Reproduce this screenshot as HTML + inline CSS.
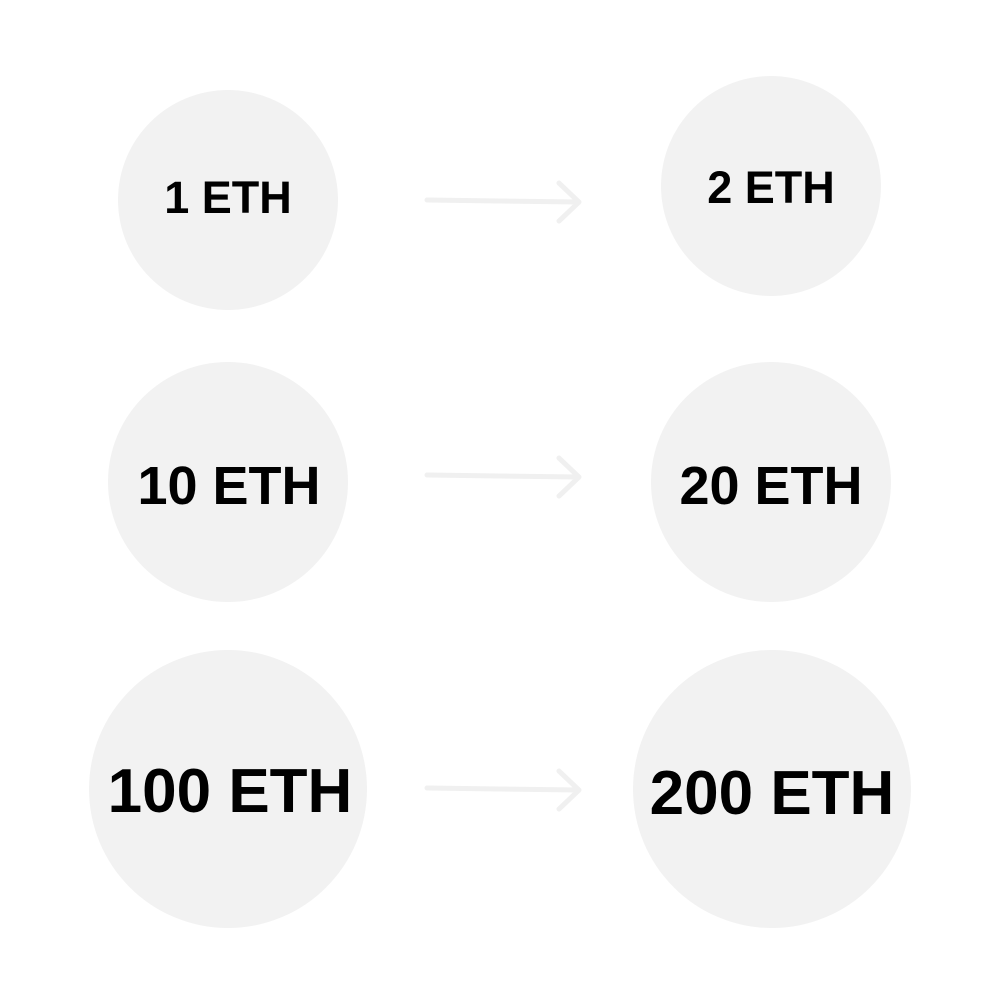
<!DOCTYPE html>
<html><head><style>
html,body{margin:0;padding:0;background:#fff;width:1000px;height:1000px;overflow:hidden}
svg text{font-family:"Liberation Sans",sans-serif;font-weight:bold;fill:#000;text-anchor:middle}
</style></head><body>
<svg width="1000" height="1000" viewBox="0 0 1000 1000">
<g fill="#f2f2f2">
<circle cx="228" cy="200" r="110"/>
<circle cx="771" cy="186" r="110"/>
<circle cx="228" cy="482" r="120"/>
<circle cx="771" cy="482" r="120"/>
<circle cx="228" cy="789" r="139"/>
<circle cx="772" cy="789" r="139"/>
</g>
<g stroke="#f0f0f0" stroke-width="5" fill="none" stroke-linecap="round" stroke-linejoin="round">
<path d="M427 200 L579 202 M559 183 L579 202 L559 221"/>
<path d="M427 475 L579 477 M559 458 L579 477 L559 496"/>
<path d="M427 788 L579 790 M559 771 L579 790 L559 809"/>
</g>
<text x="228" y="213" font-size="45">1 ETH</text>
<text x="771" y="203" font-size="45">2 ETH</text>
<text x="229" y="504" font-size="54">10 ETH</text>
<text x="771" y="504" font-size="54">20 ETH</text>
<text x="230" y="812" font-size="62">100 ETH</text>
<text x="772" y="814" font-size="62">200 ETH</text>
</svg>
</body></html>
